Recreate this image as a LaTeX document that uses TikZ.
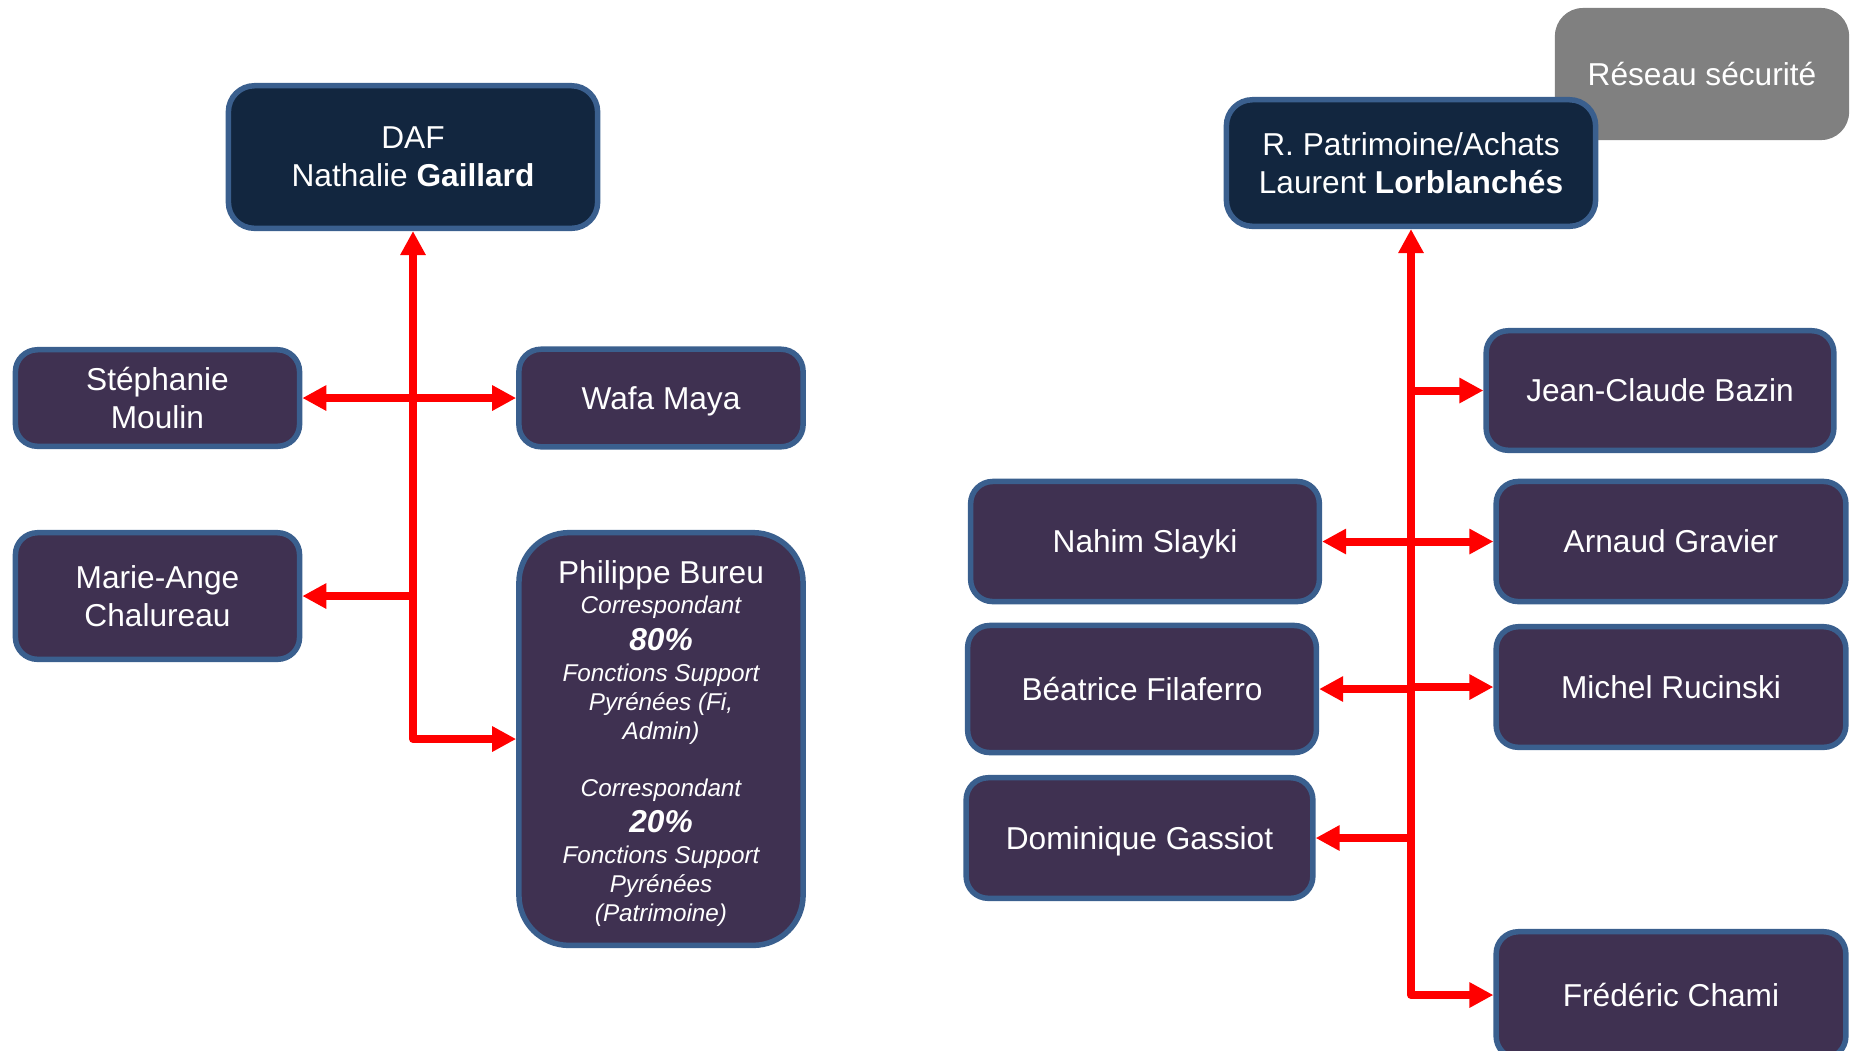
\documentclass[tikz,border=0pt]{standalone}
\usepackage{fontspec}
\setmainfont{Liberation Sans}
\usetikzlibrary{arrows.meta}
\definecolor{navy}{HTML}{12263F}
\definecolor{plum}{HTML}{3F3151}
\definecolor{edgeblue}{HTML}{3A5F8E}
\definecolor{greybox}{HTML}{808080}
\begin{document}
\begin{tikzpicture}[x=0.01cm,y=-0.01cm,
  >={Triangle[length=0.24cm,width=0.24cm]},
  orgbox/.style={draw=edgeblue, line width=0.055cm, inner sep=0pt, text=white,
    align=center, font=\fontsize{9}{10.9}\selectfont, rounded corners=0.22cm},
  oneline/.style={text height=6.45pt, text depth=0pt},
  headbox/.style={orgbox, fill=navy, rounded corners=0.26cm, minimum width=3.69cm},
  personbox/.style={orgbox, fill=plum},
  leftbox/.style={personbox, minimum width=2.84cm},
  rightbox/.style={personbox, minimum width=3.495cm},
  link/.style={draw=red, line width=0.08cm, line join=round}]
\useasboundingbox (0,0) rectangle (1854,1050);

% grey network box (behind)
\node[orgbox, oneline, fill=greybox, draw=none, rounded corners=0.28cm,
      minimum width=2.94cm, minimum height=1.32cm] (RS) at (1702,74) {Réseau sécurité};

% heads
\node[headbox, minimum height=1.425cm] (DAF) at (413,157) {DAF\\Nathalie \textbf{Gaillard}};
\node[headbox, minimum height=1.265cm] (RP) at (1411,163) {R. Patrimoine/Achats\\Laurent \textbf{Lorblanchés}};

% left team
\node[leftbox, minimum height=0.965cm] (SM) at (157.5,398) {Stéphanie\\Moulin};
\node[leftbox, oneline, minimum height=0.975cm] (WM) at (661,398) {Wafa Maya};
\node[leftbox, minimum height=1.265cm] (MA) at (157.5,596) {Marie-Ange\\Chalureau};
\node[leftbox, minimum height=4.125cm, rounded corners=0.5cm,
      font=\fontsize{6.9}{8.2}\selectfont\itshape] (PB) at (661,739)
  {{\upshape\fontsize{9}{10.9}\selectfont\rule{0pt}{8.9pt}Philippe Bureu}\\[0.5pt]
   Correspondant\\[2.2pt]
   {\bfseries\fontsize{9}{10.9}\selectfont 80\%}\\[0.7pt]
   Fonctions Support\\
   Pyrénées (Fi,\\
   Admin)\\[8.1pt]
   Correspondant\\[2pt]
   {\bfseries\fontsize{9}{10.9}\selectfont 20\%}\\[0.6pt]
   Fonctions Support\\
   Pyrénées\\
   (Patrimoine)};

% right team
\node[personbox, oneline, minimum width=3.475cm, minimum height=1.195cm] (JC) at (1660,390.5) {Jean-Claude Bazin};
\node[personbox, oneline, minimum width=3.485cm, minimum height=1.2cm] (NS) at (1145,541.5) {Nahim Slayki};
\node[rightbox, oneline, minimum height=1.2cm] (AG) at (1671,541.5) {Arnaud Gravier};
\node[personbox, oneline, minimum width=3.485cm, minimum height=1.27cm] (BF) at (1142,689) {Béatrice Filaferro};
\node[rightbox, oneline, minimum height=1.205cm] (MR) at (1671,687) {Michel Rucinski};
\node[personbox, oneline, minimum width=3.465cm, minimum height=1.205cm] (DG) at (1139.5,838) {Dominique Gassiot};
\node[rightbox, oneline, minimum height=1.265cm] (FC) at (1671,995) {Frédéric Chami};

% left connectors
\draw[link,<->] (DAF.south) |- (PB.west);
\draw[link,<->] (SM.east) -- (WM.west);
\draw[link,->] (DAF.south |- MA.east) -- (MA.east);

% right connectors
\draw[link,<->] (RP.south) |- (FC.west);
\draw[link,->] (RP.south |- JC.west) -- (JC.west);
\draw[link,->] (RP.south |- NS.east) -- (NS.east);
\draw[link,->] (RP.south |- AG.west) -- (AG.west);
\draw[link,->] (RP.south |- BF.east) -- (BF.east);
\draw[link,->] (RP.south |- MR.west) -- (MR.west);
\draw[link,->] (RP.south |- DG.east) -- (DG.east);
\end{tikzpicture}
\end{document}
